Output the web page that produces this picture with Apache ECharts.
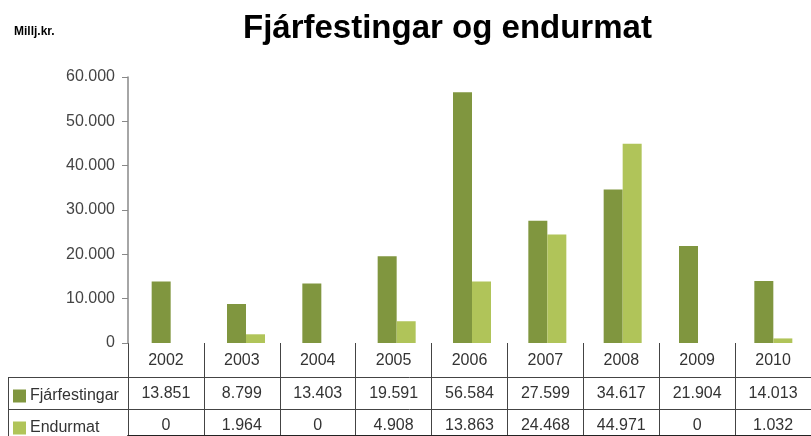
<!DOCTYPE html>
<html>
<head>
<meta charset="utf-8">
<style>
  html, body { margin: 0; padding: 0; background: #fff; }
  #chart { width: 811px; height: 436px; }
</style>
<script src="https://cdn.jsdelivr.net/npm/echarts@6/dist/echarts.min.js"></script>
</head>
<body>
<div id="chart"></div>
<script>
const years = ['2002', '2003', '2004', '2005', '2006', '2007', '2008', '2009', '2010']
const fjarfestingar = [13851, 8799, 13403, 19591, 56584, 27599, 34617, 21904, 14013]
const endurmat = [0, 1964, 0, 4908, 13863, 24468, 44971, 0, 1032]
const seriesNames = ['Fjárfestingar', 'Endurmat']
const colors = ['#80963f', '#b0c459']

// 13851 -> "13.851"
function fmt(v) {
  return String(v).replace(/\B(?=(\d{3})+(?!\d))/g, '.')
}

const font = 'Liberation Sans, Arial, sans-serif'
const labelStyle = { fontSize: 16, color: '#333', fontFamily: font, margin: 9, interval: 0 }

function tableRow(data, offset) {
  return {
    type: 'category',
    gridIndex: 1,
    position: 'bottom',
    offset: offset,
    data: data,
    axisLine: { show: false },
    axisTick: { show: false },
    axisLabel: labelStyle
  }
}

// one legend per table row, in the left column
function rowLegend(name, top) {
  return {
    data: [name],
    left: 13,
    top: top,
    padding: 0,
    itemWidth: 13,
    itemHeight: 13,
    icon: 'rect',
    textStyle: { fontSize: 16, color: '#333', fontFamily: font, padding: [0, 0, 0, -1] }
  }
}

const chart = echarts.init(document.getElementById('chart'))

chart.setOption({
  animation: false,
  title: [
    {
      text: 'Fjárfestingar og endurmat',
      left: 243,
      top: 12,
      padding: 0,
      textStyle: { fontSize: 33, fontWeight: 'bold', color: '#000', fontFamily: font }
    },
    {
      text: 'Millj.kr.',
      left: 14,
      top: 26,
      padding: 0,
      textStyle: { fontSize: 12, fontWeight: 'bold', color: '#000', fontFamily: 'Liberation Sans Narrow, Arial Narrow, sans-serif' }
    }
  ],
  legend: [
    rowLegend(seriesNames[0], 388),
    rowLegend(seriesNames[1], 420)
  ],
  grid: [
    { left: 133, right: -5, top: 77, bottom: 93 },
    { left: 128, right: 0, top: 343, bottom: 0 }
  ],
  xAxis: [
    {
      type: 'category',
      gridIndex: 0,
      data: years,
      axisLine: { show: false },
      axisTick: { show: false },
      axisLabel: { show: false }
    },
    {
      type: 'category',
      gridIndex: 1,
      position: 'top',
      data: years,
      axisLine: { lineStyle: { color: '#222', width: 2 } },
      axisTick: { show: false },
      axisLabel: { show: false },
      splitLine: { show: true, interval: 0, lineStyle: { color: '#444', width: 1 } }
    },
    tableRow(years, -92),
    tableRow(fjarfestingar.map(fmt), -59),
    tableRow(endurmat.map(fmt), -27)
  ],
  yAxis: [
    {
      type: 'value',
      gridIndex: 0,
      min: 0,
      max: 60000,
      interval: 10000,
      offset: 5,
      axisLine: { show: true, lineStyle: { color: '#888', width: 1.5 } },
      axisTick: { show: true, length: 6, lineStyle: { color: '#888' } },
      axisLabel: { fontSize: 16, color: '#444', fontFamily: font, margin: 13, formatter: fmt },
      splitLine: { show: false }
    },
    { type: 'value', gridIndex: 1, show: false }
  ],
  series: [
    {
      name: seriesNames[0],
      type: 'bar',
      xAxisIndex: 0,
      yAxisIndex: 0,
      data: fjarfestingar,
      barWidth: 19,
      barGap: '0%',
      itemStyle: { color: colors[0] }
    },
    {
      name: seriesNames[1],
      type: 'bar',
      xAxisIndex: 0,
      yAxisIndex: 0,
      data: endurmat,
      barWidth: 19,
      barGap: '0%',
      itemStyle: { color: colors[1] }
    }
  ],
  graphic: [
    { type: 'line', shape: { x1: 8, y1: 377.5, x2: 811, y2: 377.5 }, style: { stroke: '#444', lineWidth: 1 } },
    { type: 'line', shape: { x1: 8, y1: 409.5, x2: 811, y2: 409.5 }, style: { stroke: '#444', lineWidth: 1 } },
    { type: 'line', shape: { x1: 8.5, y1: 377, x2: 8.5, y2: 436 }, style: { stroke: '#444', lineWidth: 1 } }
  ]
})
</script>
</body>
</html>
